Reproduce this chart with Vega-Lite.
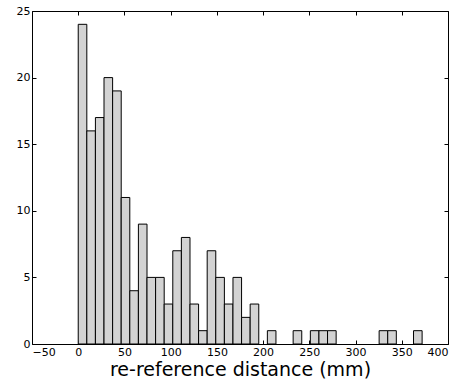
{
  "$schema": "https://vega.github.io/schema/vega-lite/v6.json",
  "width": 416,
  "height": 333,
  "autosize": "none",
  "padding": {"left": 32, "top": 11, "right": 17, "bottom": 37},
  "background": "white",
  "config": {
    "font": "DejaVu Sans",
    "view": {"stroke": "black", "strokeWidth": 1},
    "axis": {"grid": false, "domain": false, "tickColor": "black", "tickSize": -4, "labelColor": "black", "labelFontSize": 11, "labelFont": "DejaVu Sans", "titleColor": "black"}
  },
  "data": {"values": [
    {"a": 0.0, "b": 9.3, "n": 24},
    {"a": 9.3, "b": 18.6, "n": 16},
    {"a": 18.6, "b": 27.9, "n": 17},
    {"a": 27.9, "b": 37.2, "n": 20},
    {"a": 37.2, "b": 46.5, "n": 19},
    {"a": 46.5, "b": 55.8, "n": 11},
    {"a": 55.8, "b": 65.1, "n": 4},
    {"a": 65.1, "b": 74.4, "n": 9},
    {"a": 74.4, "b": 83.7, "n": 5},
    {"a": 83.7, "b": 93.0, "n": 5},
    {"a": 93.0, "b": 102.3, "n": 3},
    {"a": 102.3, "b": 111.6, "n": 7},
    {"a": 111.6, "b": 120.9, "n": 8},
    {"a": 120.9, "b": 130.2, "n": 3},
    {"a": 130.2, "b": 139.5, "n": 1},
    {"a": 139.5, "b": 148.8, "n": 7},
    {"a": 148.8, "b": 158.1, "n": 5},
    {"a": 158.1, "b": 167.4, "n": 3},
    {"a": 167.4, "b": 176.7, "n": 5},
    {"a": 176.7, "b": 186.0, "n": 2},
    {"a": 186.0, "b": 195.3, "n": 3},
    {"a": 204.6, "b": 213.9, "n": 1},
    {"a": 232.5, "b": 241.8, "n": 1},
    {"a": 251.1, "b": 260.4, "n": 1},
    {"a": 260.4, "b": 269.7, "n": 1},
    {"a": 269.7, "b": 279.0, "n": 1},
    {"a": 325.5, "b": 334.8, "n": 1},
    {"a": 334.8, "b": 344.1, "n": 1},
    {"a": 362.7, "b": 372.0, "n": 1}
  ]},
  "layer": [
    {
      "mark": {"type": "bar", "fill": "#d3d3d3", "stroke": "black", "strokeWidth": 1},
      "encoding": {
        "x": {"field": "a", "type": "quantitative", "scale": {"domain": [-50, 400], "nice": false, "zero": false, "padding": 0},
              "axis": {"orient": "bottom", "values": [-50, 0, 50, 100, 150, 200, 250, 300, 350, 400], "labelPadding": 6, "title": "re-reference distance (mm)", "titleFontSize": 19, "titleFontWeight": "normal", "titlePadding": 3}},
        "x2": {"field": "b"},
        "y": {"field": "n", "type": "quantitative", "scale": {"domain": [0, 25], "nice": false, "padding": 0},
              "axis": {"orient": "left", "values": [0, 5, 10, 15, 20, 25], "labelPadding": 6, "title": null}},
        "y2": {"datum": 0}
      }
    },
    {
      "mark": {"type": "bar", "opacity": 0},
      "encoding": {
        "x": {"field": "a", "type": "quantitative", "axis": {"orient": "top", "values": [-50, 0, 50, 100, 150, 200, 250, 300, 350, 400], "labels": false, "title": null}},
        "x2": {"field": "b"},
        "y": {"field": "n", "type": "quantitative", "axis": {"orient": "right", "values": [0, 5, 10, 15, 20, 25], "labels": false, "title": null}},
        "y2": {"datum": 0}
      }
    }
  ],
  "resolve": {"axis": {"x": "independent", "y": "independent"}}
}
